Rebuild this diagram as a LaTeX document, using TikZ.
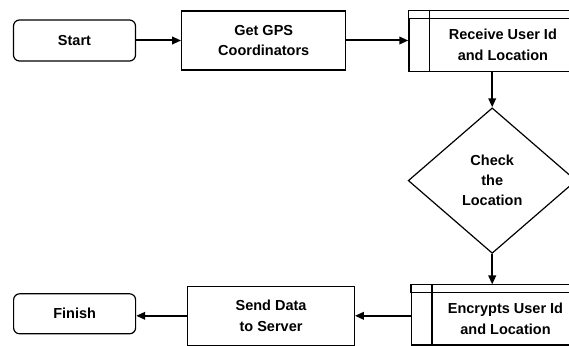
\documentclass[tikz,border=0pt]{standalone}
\usepackage{fontspec}
\setmainfont{Liberation Sans}
\usetikzlibrary{shapes.geometric, arrows.meta, positioning}

\begin{document}
\begin{tikzpicture}[x=1pt, y=1pt,
  term/.style={rectangle, rounded corners=6pt, draw=black, line width=1.2pt,
               minimum width=122pt, minimum height=41pt, align=center,
               font=\fontsize{14.5}{20.5}\selectfont\bfseries, inner sep=0pt},
  box/.style={rectangle, draw=black, line width=1.2pt,
              minimum width=164pt, minimum height=59pt, align=center,
              font=\fontsize{14.5}{20.5}\selectfont\bfseries, inner sep=0pt},
  bar/.style={draw=black, line width=1.2pt, line cap=rect},
  subproc/.style={box, minimum width=188pt, minimum height=52.5pt,
    append after command={
      ([yshift=7.5pt]\tikzlastnode.north west) edge[bar] ([yshift=7.5pt]\tikzlastnode.north east)
      ([yshift=7.5pt]\tikzlastnode.north west) edge[bar] (\tikzlastnode.north west)
      ([yshift=7.5pt]\tikzlastnode.north east) edge[bar] (\tikzlastnode.north east)
      ([xshift=21pt, yshift=7.5pt]\tikzlastnode.north west) edge[bar] ([xshift=21pt]\tikzlastnode.south west)}},
  decision/.style={diamond, draw=black, line width=1.2pt,
                   minimum width=168pt, minimum height=145.5pt, align=center,
                   font=\fontsize{14.5}{20}\selectfont\bfseries, inner sep=0pt},
  arrow/.style={-{Triangle[length=9pt, width=7.5pt]}, line width=2pt, black}
]
\useasboundingbox (0,0) rectangle (569,-345);
\clip (0,0) rectangle (569,-345);

\node[term] (start) at (74.5,-40.5) {Start};
\node[box, right=45pt of start] (gps) {Get GPS\\Coordinators};
\node[subproc, right=62pt of gps, yshift=-4.4pt] (rcv) {Receive User Id\\and Location};
\node[decision, below=35.5pt of rcv, xshift=-10.7pt] (chk) {Check\\the\\Location};
\node[subproc, below=38pt of chk, xshift=13.3pt] (enc) {Encrypts User Id\\and Location};
\node[box, left=56pt of enc, yshift=3pt, minimum width=166.5pt] (send) {Send Data\\to Server};
\node[term, left=51pt of send, yshift=2pt, minimum height=40pt] (fin) {Finish};

\draw[arrow] (start) -- (gps);
\draw[arrow] (gps.east) -- (gps.east -| rcv.west);
\draw[arrow] (chk.north |- rcv.south) -- (chk.north);
\draw[arrow] (chk.south) -- ([yshift=7.5pt]chk.south |- enc.north);
\draw[arrow] (enc.west |- send.east) -- (send.east);
\draw[arrow] (send.west) -- (send.west -| fin.east);

\end{tikzpicture}
\end{document}
